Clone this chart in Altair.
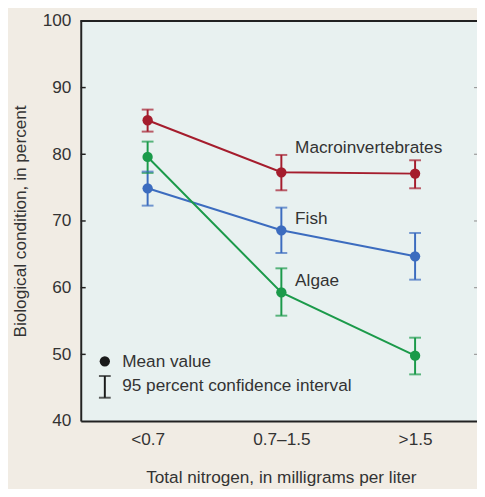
import json
import altair as alt
import pandas as pd

# ---- data ----
categories = ["<0.7", "0.7\u20131.5", ">1.5"]
cat_index = [1, 2, 3]

series_names = ["Macroinvertebrates", "Fish", "Algae"]
series_colors = ["#a51d2d", "#3c6cbf", "#1b9a4a"]

macro_mean = [85.1, 77.3, 77.1]
macro_lo = [83.4, 74.6, 74.9]
macro_hi = [86.7, 79.9, 79.1]

fish_mean = [74.9, 68.6, 64.7]
fish_lo = [72.3, 65.2, 61.2]
fish_hi = [77.4, 72.0, 68.2]

algae_mean = [79.6, 59.3, 49.8]
algae_lo = [77.2, 55.8, 47.0]
algae_hi = [81.9, 62.9, 52.5]

# series label anchors (category index, value)
label_y = [81.1, 70.4, 61.1]
label_x = [2, 2, 2]

y_ticks = [50, 60, 70, 80, 90]

legend_texts = ["Mean value", "95 percent confidence interval"]
legend_text_y = [48.8, 45.2]
legend_mark_x = 0.68
legend_dot_y = 48.95
legend_ci = [43.5, 46.75]
legend_text_x = 0.81

# ---- tables ----
rows = []
for name, m, lo, hi in zip(series_names,
                           [macro_mean, fish_mean, algae_mean],
                           [macro_lo, fish_lo, algae_lo],
                           [macro_hi, fish_hi, algae_hi]):
    for i, c in enumerate(cat_index):
        rows.append({"series": name, "x": c, "mean": m[i], "lo": lo[i], "hi": hi[i]})
df = pd.DataFrame(rows)

labels_df = pd.DataFrame({"series": series_names, "x": label_x, "y": label_y})
ticks_df = pd.DataFrame({"v": y_ticks})
legend_text_df = pd.DataFrame({"t": legend_texts, "x": [legend_text_x] * 2, "y": legend_text_y})
legend_dot_df = pd.DataFrame({"x": [legend_mark_x], "y": [legend_dot_y]})
legend_ci_df = pd.DataFrame({"x": [legend_mark_x, legend_mark_x], "y": legend_ci,
                             "lo": [legend_ci[0]] * 2, "hi": [legend_ci[1]] * 2})

W, H = 403, 407
FONT = "Liberation Sans"
FS = 17.5
TXT = "#333333"

xs = alt.Scale(domain=[0.5, 3.463], nice=False, zero=False)
ys = alt.Scale(domain=[40, 100], nice=False, zero=False)
color = alt.Scale(domain=series_names, range=series_colors)

label_expr = json.dumps(categories) + "[datum.value - 1]"
xaxis = alt.Axis(values=cat_index, labelExpr=label_expr, title="Total nitrogen, in milligrams per liter",
                 titleX=203.5, titleY=62, titleBaseline="alphabetic", titleAnchor=None,
                 labelPadding=10, labelFlush=False)
yaxis = alt.Axis(values=[40, 50, 60, 70, 80, 90, 100], title="Biological condition, in percent",
                 titleX=-56, titleY=H / 2, titleAngle=-90, titleAlign="center",
                 titleBaseline="alphabetic", labelPadding=10)


def X(field):
    return alt.X(field, type="quantitative", scale=xs, axis=xaxis)


def Y(field):
    return alt.Y(field, type="quantitative", scale=ys, axis=yaxis)


lines = alt.Chart(df).mark_line(strokeWidth=2).encode(
    x=X("x"), y=Y("mean"),
    color=alt.Color("series:N", scale=color, legend=None),
    detail="series:N",
)
bars = alt.Chart(df).mark_rule(strokeWidth=2).encode(
    x=X("x"), y=Y("lo"), y2="hi",
    color=alt.Color("series:N", scale=color, legend=None),
)
cap_lo = alt.Chart(df).mark_tick(orient="horizontal", size=12, thickness=2).encode(
    x=X("x"), y=Y("lo"), color=alt.Color("series:N", scale=color, legend=None),
)
cap_hi = alt.Chart(df).mark_tick(orient="horizontal", size=12, thickness=2).encode(
    x=X("x"), y=Y("hi"), color=alt.Color("series:N", scale=color, legend=None),
)
points = alt.Chart(df).mark_circle(size=110, opacity=1).encode(
    x=X("x"), y=Y("mean"), color=alt.Color("series:N", scale=color, legend=None),
)
labels = alt.Chart(labels_df).mark_text(align="left", baseline="middle", dx=14, dy=1,
                                        font=FONT, fontSize=FS, color=TXT).encode(
    x=X("x"), y=Y("y"), text="series:N",
)

inner_ticks_l = alt.Chart(ticks_df).mark_rule(color="#222222", strokeWidth=1.5).encode(
    y=Y("v"), x=alt.value(0), x2=alt.value(5),
)
inner_ticks_r = alt.Chart(ticks_df).mark_rule(color="#9a9a9a", strokeWidth=1.2).encode(
    y=Y("v"), x=alt.value(W - 3), x2=alt.value(W),
)
top_border = alt.Chart(ticks_df).mark_rule(color="#222222", strokeWidth=2).encode(
    x=alt.value(0), x2=alt.value(W), y=alt.value(0),
)

leg_dot = alt.Chart(legend_dot_df).mark_circle(size=110, opacity=1, color="#1a1a1a").encode(
    x=X("x"), y=Y("y"),
)
leg_bar = alt.Chart(legend_ci_df.iloc[:1]).mark_rule(color="#1a1a1a", strokeWidth=2).encode(
    x=X("x"), y=Y("lo"), y2="hi",
)
leg_caps = alt.Chart(legend_ci_df).mark_tick(orient="horizontal", size=12, thickness=2,
                                             color="#1a1a1a").encode(
    x=X("x"), y=Y("y"),
)
leg_text = alt.Chart(legend_text_df).mark_text(align="left", baseline="middle",
                                               font=FONT, fontSize=FS, color=TXT).encode(
    x=X("x"), y=Y("y"), text="t:N",
)

chart = alt.layer(
    inner_ticks_l, inner_ticks_r, top_border,
    lines, bars, cap_lo, cap_hi, points, labels,
    leg_bar, leg_caps, leg_dot, leg_text,
).properties(
    width=W, height=H,
    autosize=alt.AutoSizeParams(type="none"),
    padding={"left": 74, "top": 9, "right": 0, "bottom": 65},
    background="#f1ece4",
).configure_view(
    fill="#e8f1f0", stroke=None,
).configure_axis(
    domainColor="#222222", domainWidth=2, ticks=False, grid=False,
    labelFont=FONT, labelFontSize=FS, labelColor=TXT,
    titleFont=FONT, titleFontSize=FS, titleFontWeight="normal", titleColor=TXT,
)

chart.save("out.html", embed_options={"renderer": "svg", "actions": False})
